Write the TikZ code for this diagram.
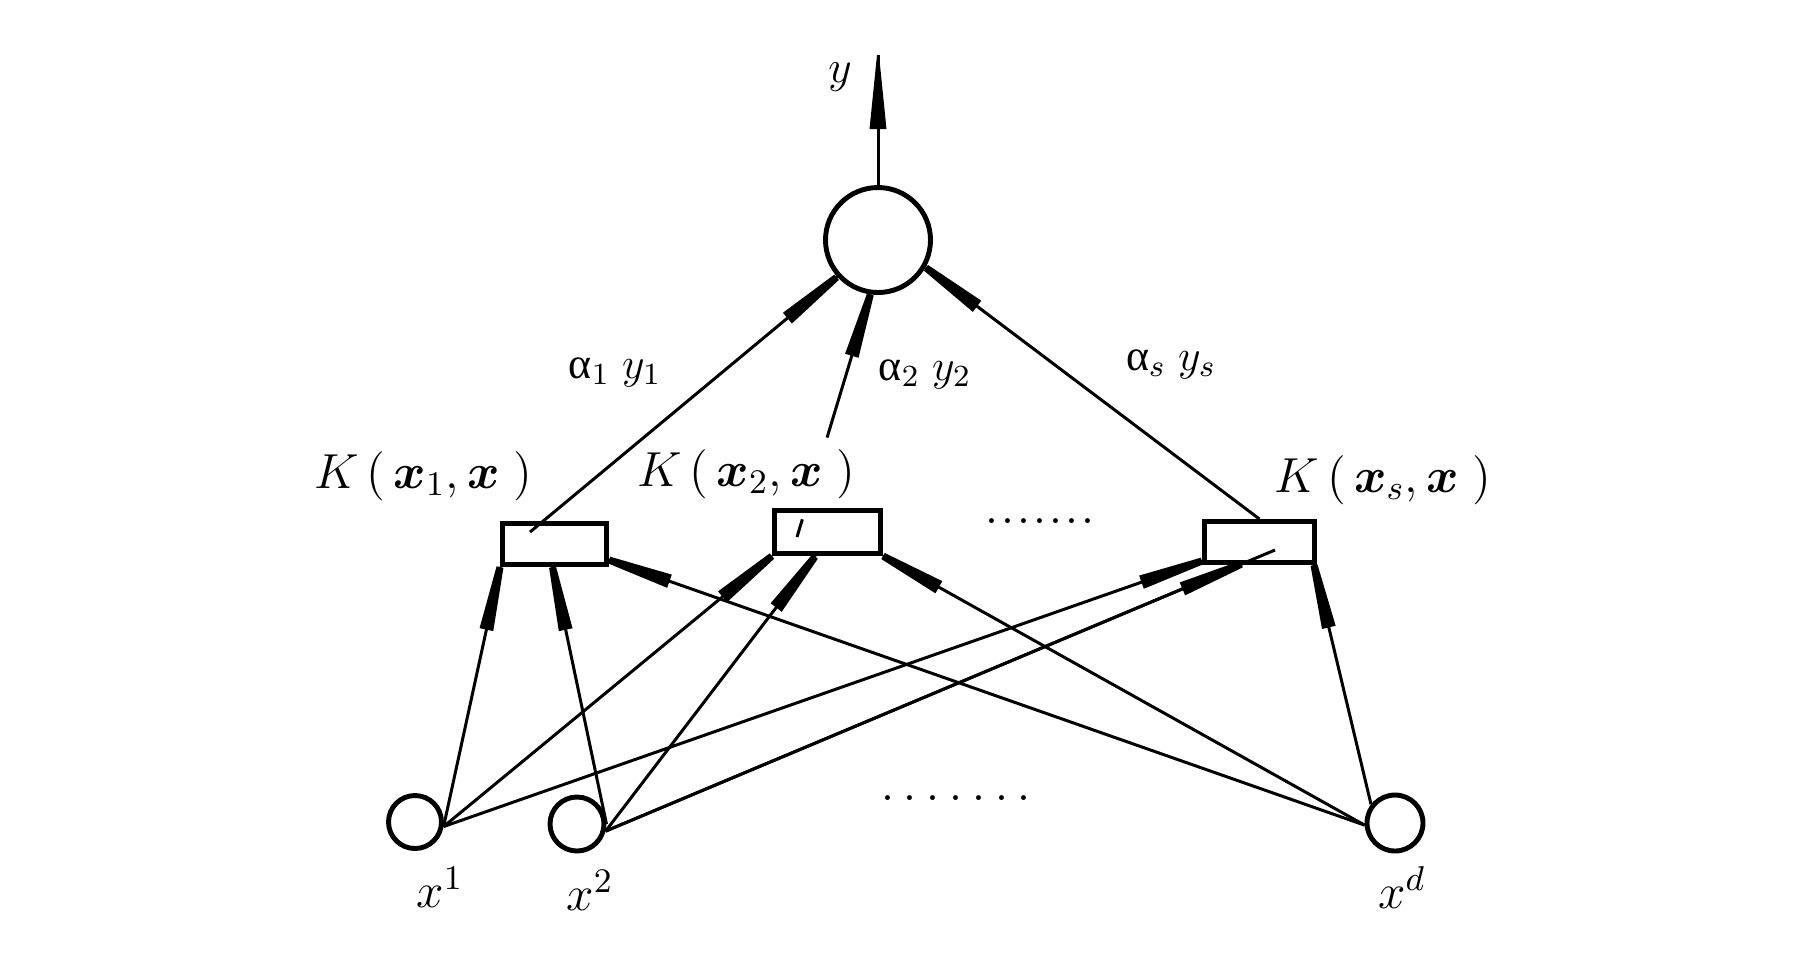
\RequirePackage{fix-cm}
\documentclass[tikz,border=0pt]{standalone}
\usepackage{amsmath}
\usepackage{fontspec}
\newfontfamily\grk{Liberation Serif}
\usetikzlibrary{arrows.meta,calc,decorations.markings}
\newcommand\dotrow[1]{.\kern#1.\kern#1.\kern#1.\kern#1.\kern#1.\kern#1.}
\begin{document}
\begin{tikzpicture}[x=0.1mm,y=-0.1mm,
  ln/.style={line width=0.85pt},
  arr/.style={ln,postaction={decorate},decoration={markings,
     mark=at position 0.9999 with {\fill (-64,-7) -- (-64,7) -- (0,3.5) -- (0,-3.5) -- cycle;}}},
  yarr/.style={ln,postaction={decorate},decoration={markings,
     mark=at position 0.9999 with {\fill (-74,-8.5) -- (-74,8.5) -- (0,1) -- (0,-1) -- cycle;}}},
  neuron/.style={circle,draw,line width=1.4pt,inner sep=0pt},
  kbox/.style={rectangle,draw,line width=1.4pt,inner sep=0pt},
  lbl/.style={inner sep=0pt,anchor=base},
  klab/.style={lbl,font=\fontsize{14pt}{16pt}\selectfont},
  alab/.style={lbl,font=\fontsize{12.5pt}{14pt}\selectfont},
  xlab/.style={lbl,font=\fontsize{14pt}{16pt}\selectfont},
  dotsl/.style={lbl,font=\fontsize{17pt}{19pt}\selectfont}]
\useasboundingbox (0,0) rectangle (1816,956);

% nodes
\node[neuron,minimum size=10.5mm] (out) at (878,240) {};
\node[kbox,minimum width=10.4mm,minimum height=4.1mm] (k1) at (554.5,544) {};
\node[kbox,minimum width=10.6mm,minimum height=4.3mm] (k2) at (827.5,532) {};
\node[kbox,minimum width=11.0mm,minimum height=4.1mm] (k3) at (1259.5,542) {};
\node[neuron,minimum size=5.3mm] (i1) at (415,822) {};
\node[neuron,minimum size=5.4mm] (i2) at (577,824) {};
\node[neuron,minimum size=5.6mm] (id) at (1395,823) {};

% coordinates
\coordinate (yend) at (878,55);
\coordinate (k1in) at (530,532);
\coordinate (k2in) at (797,537);
\coordinate (k3in) at (1275,550);
\coordinate (s1) at (i1.-9);
\coordinate (s2) at (i2.-14);
\coordinate (s2b) at (i2.0);
\coordinate (sd) at (id.184);
\coordinate (sdb) at (id.142);

% output
\draw[yarr] (out.north) -- (yend);

% kernel -> output
\draw[arr] (k1in) -- (out.222);
\draw[ln] (k2in) -- ($(k2in)!0.073!(out.-98)$);
\draw[arr] ($(k2in)!0.41!(out.-98)$) -- (out.-98);
\draw[arr] (k3.north) -- (out.-30);

% inputs -> kernels
\draw[arr] (s1) -- (k1.south west);
\draw[arr] (s1) -- (k2.south west);
\draw[arr] (s1) -- ($(k3.south west)+(0,-4)$);
\draw[arr] (s2b) -- ($(k1.south)+(-2,0)$);
\draw[arr] (s2) -- ($(k2.south)+(-12,0)$);
\draw[ln] (s2) -- (k3in);
\draw[arr] (s2) -- ($(s2)!0.95!(k3in)$);
\draw[arr] (sd) -- ($(k1.south east)+(0,-7)$);
\draw[arr] (sd) -- (k2.south east);
\draw[arr] (sdb) -- ($(k3.south east)+(-3,0)$);

% labels
\node[lbl,font=\fontsize{13pt}{15pt}\selectfont] (ylab) at (840,82) {$y$};
\node[klab] (kl1) at (423,488) {$K\,(\,\boldsymbol{x}_1,\boldsymbol{x}\;)$};
\node[klab] (kl2) at (746,486) {$K\,(\,\boldsymbol{x}_2,\boldsymbol{x}\;)$};
\node[klab] (kl3) at (1383,492) {$K\,(\,\boldsymbol{x}_s,\boldsymbol{x}\;)$};
\node[alab] (a1) at (615,378) {{\grk α}$_1$\;$y_1$};
\node[alab] (a2) at (925,380) {{\grk α}$_2$\;$y_2$};
\node[alab] (as) at (1171,370) {{\grk α}$_s$\;$y_s$};
\node[xlab] (xl1) at (440,907) {$x^1$};
\node[xlab] (xl2) at (590,910) {$x^2$};
\node[xlab] (xld) at (1402,908) {$x^d$};
\node[dotsl] (dmid) at (1040,523) {\dotrow{0.34pt}};
\node[dotsl] (dbot) at (956,800) {\dotrow{2.24pt}};
\end{tikzpicture}
\end{document}
